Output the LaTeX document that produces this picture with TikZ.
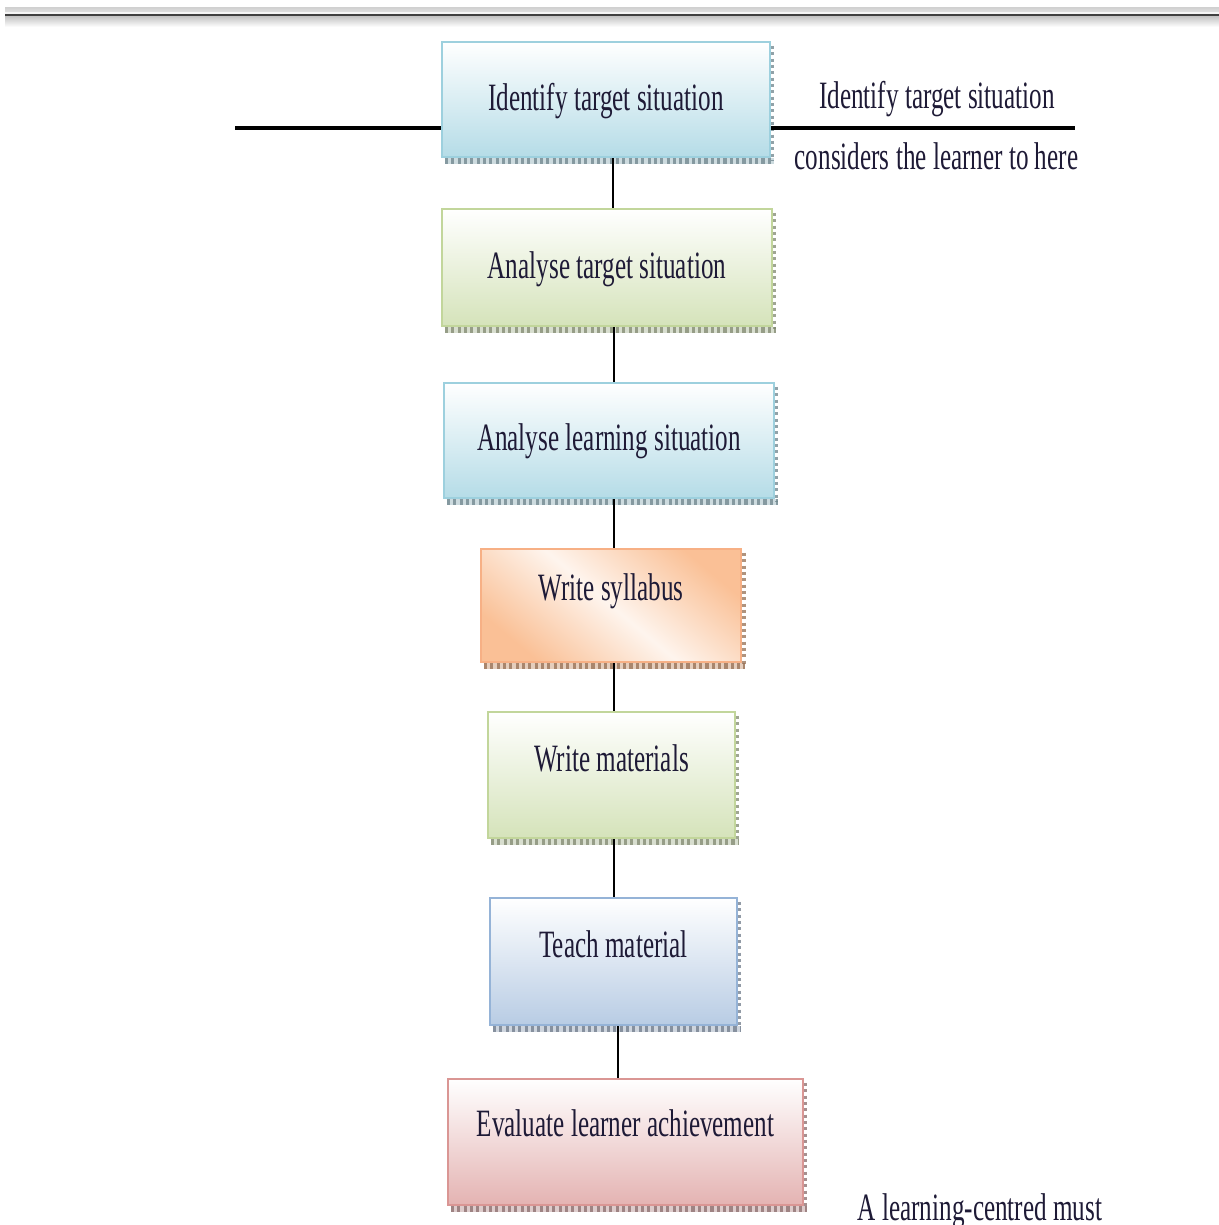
\documentclass[tikz,border=0pt]{standalone}
\usepackage{fontspec}
\setmainfont[FakeStretch=0.65]{Liberation Serif}
\definecolor{inkC}{HTML}{1E1A36}
\definecolor{blueAC}{HTML}{B5DCE7}\definecolor{blueABd}{HTML}{9DD0DE}
\definecolor{greenC}{HTML}{D5E3BA}\definecolor{greenBd}{HTML}{C2D69B}
\definecolor{orangeC}{HTML}{F9B98A}\definecolor{orangeBd}{HTML}{F7B085}
\definecolor{blueBC}{HTML}{B8CCE4}\definecolor{blueBBd}{HTML}{95B3D7}
\definecolor{redC}{HTML}{E4B3B2}\definecolor{redBd}{HTML}{DA9694}
\newcommand{\mkshadow}[2]{%
  \draw[shadowstrip=#2, line width=1.7pt] ([xshift=0.04cm,yshift=-0.028cm]#1.south west) -- ([xshift=0.03cm,yshift=-0.028cm]#1.south east);
  \draw[shadowline=#2, line width=1.7pt] ([xshift=0.04cm,yshift=-0.028cm]#1.south west) -- ([xshift=0.03cm,yshift=-0.028cm]#1.south east);
  \draw[shadowline=#2, line width=0.9pt] ([xshift=0.018cm,yshift=-0.05cm]#1.north east) -- ([xshift=0.018cm,yshift=-0.02cm]#1.south east);
}
\newcommand{\mkbox}[8]{%
  % #1 name #2 cx #3 cy #4 w #5 h #6 colour #7 depth #8 text
  \node[box=#6, minimum width=#4*0.01cm, minimum height=#5*0.01cm, text depth=#7cm] (#1) at (#2,#3) {#8};
  \mkshadow{#1}{#6}
}
\begin{document}
\begin{tikzpicture}[x=0.01cm,y=-0.01cm,
  txt/.style={font=\fontsize{11pt}{13pt}\selectfont, text=inkC},
  box/.style={draw=#1Bd, line width=0.6pt, top color=white, bottom color=#1C,
    inner sep=0pt, txt, text height=0.27cm},
  shadowstrip/.style={draw=#1C!80!black, opacity=0.45},
  shadowline/.style={draw=#1C!60!black, opacity=0.75, dash pattern=on 0.9pt off 0.9pt},
  conn/.style={draw=black, line width=0.8pt},
  heavy/.style={draw=black, line width=1.4pt}
]
\useasboundingbox[fill=white] (0,0) rectangle (1219,1225);

% header rule
\shade[top color=gray!35, bottom color=gray!25] (5,8) rectangle (1219,12);
\fill[gray!8] (5,12) rectangle (1219,14);
\fill[black!75] (5,14) rectangle (1219,16.5);
\shade[top color=gray!45, bottom color=white] (5,16.5) rectangle (1219,27);

\mkbox{b1}{606}{99.5}{328}{115}{blueA}{0.04}{Identify target situation}
\mkbox{b2}{607}{267.5}{330}{117}{green}{0.06}{Analyse target situation}
\mkbox{b3}{609}{440.5}{330}{115}{blueA}{0.08}{Analyse learning situation}
\node[box=orange, left color=orangeC!90!white, right color=orangeC!90!white,
  middle color=orangeC!15!white, shading angle=-40,
  minimum width=2.6cm, minimum height=1.13cm, text depth=0.36cm] (b4) at (611,605.5) {Write syllabus};
\mkshadow{b4}{orange}
\mkbox{b5}{611.5}{775}{247}{126}{green}{0.35}{Write materials}
\mkbox{b6}{613.5}{961.5}{247}{127}{blueB}{0.36}{Teach material}
\mkbox{b7}{625.5}{1142}{355}{126}{red}{0.39}{Evaluate learner achievement}

% connectors
\coordinate (x1) at (613,0);
\coordinate (x2) at (614,0);
\coordinate (x3) at (618,0);
\draw[conn] (b1.south -| x1) -- (b2.north -| x1);
\draw[conn] (b2.south -| x2) -- (b3.north -| x2);
\draw[conn] (b3.south -| x2) -- (b4.north -| x2);
\draw[conn] (b4.south -| x2) -- (b5.north -| x2);
\draw[conn] (b5.south -| x2) -- (b6.north -| x2);
\draw[conn] (b6.south -| x3) -- (b7.north -| x3);

% horizontal rule through first box
\coordinate (hl) at (235,128);
\coordinate (hr) at (1075,128);
\draw[heavy] (hl) -- (hl -| b1.west);
\draw[heavy] (hr -| b1.east) -- (hr);

% side texts
\node[txt] (s1) at (937,99) {Identify target situation};
\node[txt] (s2) at (936.5,156) {considers the learner to here};
\node[txt] (s3) at (980,1211) {A learning-centred must};
\end{tikzpicture}
\end{document}
